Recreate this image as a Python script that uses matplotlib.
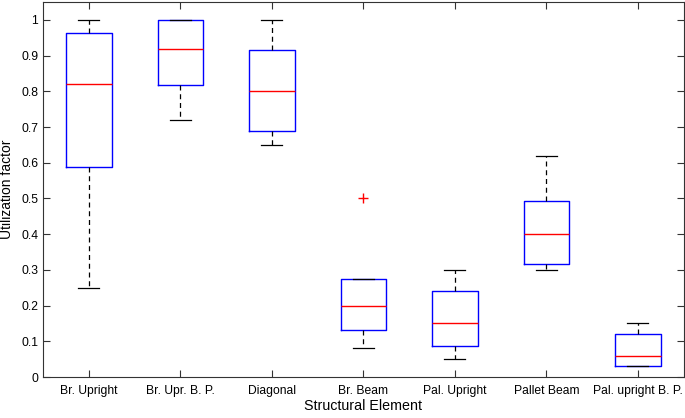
import matplotlib
matplotlib.use("Agg")
import matplotlib.pyplot as plt

plt.rcParams['font.family'] = ['Liberation Sans', 'DejaVu Sans']

categories = ["Br. Upright", "Br. Upr. B. P.", "Diagonal", "Br. Beam",
              "Pal. Upright", "Pallet Beam", "Pal. upright B. P."]
whislo = [0.25, 0.72, 0.65, 0.08, 0.05, 0.30, 0.03]
q1 = [0.588, 0.818, 0.688, 0.133, 0.088, 0.316, 0.03]
med = [0.82, 0.92, 0.80, 0.20, 0.15, 0.40, 0.06]
q3 = [0.963, 1.0, 0.917, 0.275, 0.24, 0.493, 0.12]
whishi = [1.0, 1.0, 1.0, 0.275, 0.30, 0.62, 0.15]
fliers = [[], [], [], [0.5], [], [], []]

stats = []
for i, c in enumerate(categories):
    stats.append(dict(label=c, whislo=whislo[i], q1=q1[i], med=med[i],
                      q3=q3[i], whishi=whishi[i], fliers=fliers[i]))

fig = plt.figure(figsize=(6.85, 4.18), dpi=100)
ax = fig.add_axes([0.063, 0.098, 0.935, 0.897])
pos = list(range(1, len(categories) + 1))
ax.bxp(stats, positions=pos, widths=0.5, capwidths=0.23, showfliers=True,
       boxprops=dict(color='#0000ff', linewidth=1.0),
       medianprops=dict(color='#ff0000', linewidth=1.0),
       whiskerprops=dict(color='black', linestyle=(0, (4, 3)), linewidth=0.9),
       capprops=dict(color='black', linewidth=0.9),
       flierprops=dict(marker='+', markeredgecolor='#ff0000', markersize=7, linestyle='none'))

ax.set_xlim(0.5, 7.5)
ax.set_ylim(0, 1.05)
ax.set_yticks([i / 10 for i in range(11)])
ax.set_yticklabels(['0', '0.1', '0.2', '0.3', '0.4', '0.5', '0.6', '0.7', '0.8', '0.9', '1'])
ax.set_xticks(pos)
ax.set_xticklabels(categories)
ax.tick_params(direction='in', top=True, right=True, labelsize=8.7, length=5, width=0.8, color='#333333')
ax.tick_params(axis='x', pad=6)
for s in ax.spines.values():
    s.set_color('#333333')
    s.set_linewidth(0.8)
ax.set_xlabel('Structural Element', fontsize=10.3, labelpad=1)
ax.set_ylabel('Utilization factor', fontsize=10, labelpad=5)

fig.savefig('out.png', dpi=100)
